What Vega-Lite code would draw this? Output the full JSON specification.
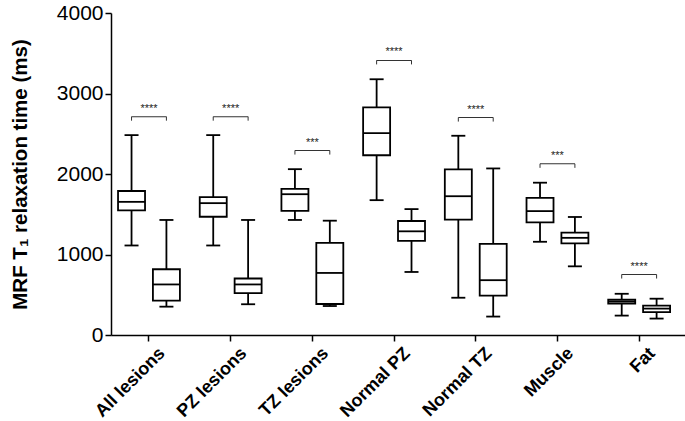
{
  "$schema": "https://vega.github.io/schema/vega-lite/v6.json",
  "width": 574,
  "height": 322,
  "autosize": "none",
  "padding": {"left": 111, "top": 13, "right": 0, "bottom": 86},
  "background": "white",
  "config": {
    "view": {"stroke": null},
    "font": "Liberation Sans",
    "axis": {"domainColor": "black", "tickColor": "black", "labelColor": "black", "titleColor": "black", "grid": false, "domainWidth": 1.5, "tickWidth": 1.5}
  },
  "datasets": {
    "boxes": [
      {"region": "All lesions", "phase": "pre", "min": 1112, "q1": 1547, "median": 1654, "q3": 1789, "max": 2483},
      {"region": "All lesions", "phase": "post", "min": 352, "q1": 426, "median": 628, "q3": 817, "max": 1429},
      {"region": "PZ lesions", "phase": "pre", "min": 1112, "q1": 1469, "median": 1638, "q3": 1712, "max": 2483},
      {"region": "PZ lesions", "phase": "post", "min": 382, "q1": 521, "median": 628, "q3": 702, "max": 1429},
      {"region": "TZ lesions", "phase": "pre", "min": 1429, "q1": 1543, "median": 1749, "q3": 1814, "max": 2060},
      {"region": "TZ lesions", "phase": "post", "min": 360, "q1": 385, "median": 771, "q3": 1145, "max": 1420},
      {"region": "Normal PZ", "phase": "pre", "min": 1675, "q1": 2233, "median": 2508, "q3": 2828, "max": 3177},
      {"region": "Normal PZ", "phase": "post", "min": 783, "q1": 1170, "median": 1288, "q3": 1416, "max": 1564},
      {"region": "Normal TZ", "phase": "pre", "min": 463, "q1": 1432, "median": 1724, "q3": 2057, "max": 2475},
      {"region": "Normal TZ", "phase": "post", "min": 229, "q1": 488, "median": 681, "q3": 1133, "max": 2069},
      {"region": "Muscle", "phase": "pre", "min": 1158, "q1": 1399, "median": 1539, "q3": 1703, "max": 1892},
      {"region": "Muscle", "phase": "post", "min": 853, "q1": 1137, "median": 1207, "q3": 1272, "max": 1466},
      {"region": "Fat", "phase": "pre", "min": 241, "q1": 389, "median": 414, "q3": 438, "max": 512},
      {"region": "Fat", "phase": "post", "min": 204, "q1": 283, "median": 328, "q3": 365, "max": 451}
    ],
    "brackets": [
      {"region": "All lesions", "level": 2712, "stars": "****"},
      {"region": "PZ lesions", "level": 2712, "stars": "****"},
      {"region": "TZ lesions", "level": 2291, "stars": "***"},
      {"region": "Normal PZ", "level": 3411, "stars": "****"},
      {"region": "Normal TZ", "level": 2701, "stars": "****"},
      {"region": "Muscle", "level": 2126, "stars": "***"},
      {"region": "Fat", "level": 751, "stars": "****"}
    ]
  },
  "encoding": {
    "x": {
      "field": "region", "type": "nominal", "sort": null,
      "scale": {"paddingInner": 0.146, "paddingOuter": 0.086, "align": 0.22},
      "axis": {"title": null, "labelAngle": -45, "labelAlign": "right", "labelBaseline": "top", "labelFontSize": 18, "labelFontWeight": "bold", "tickSize": 6, "labelPadding": 3, "labelOffset": 7}
    }
  },
  "layer": [
    {
      "data": {"name": "boxes"},
      "mark": {"type": "rule", "color": "black", "strokeWidth": 1.8},
      "encoding": {
        "xOffset": {"field": "phase", "type": "nominal", "sort": ["pre", "post"], "scale": {"paddingInner": 0, "paddingOuter": 0}},
        "y": {"field": "min", "type": "quantitative", "scale": {"domain": [0, 4000], "nice": false},
          "axis": {"values": [0, 1000, 2000, 3000, 4000], "format": "d", "labelFontSize": 21, "tickSize": 6, "labelPadding": 2, "title": "MRF T₁ relaxation time (ms)", "titleFontSize": 20.5, "titleFontWeight": "bold", "titlePadding": 26}},
        "y2": {"field": "max"}
      }
    },
    {
      "data": {"name": "boxes"},
      "mark": {"type": "bar", "fill": "white", "stroke": "black", "strokeWidth": 1.8, "width": 27},
      "encoding": {
        "xOffset": {"field": "phase", "type": "nominal", "sort": ["pre", "post"]},
        "y": {"field": "q1", "type": "quantitative"},
        "y2": {"field": "q3"}
      }
    },
    {
      "data": {"name": "boxes"},
      "mark": {"type": "tick", "color": "black", "size": 27, "thickness": 1.8, "opacity": 1},
      "encoding": {
        "xOffset": {"field": "phase", "type": "nominal", "sort": ["pre", "post"]},
        "y": {"field": "median", "type": "quantitative"}
      }
    },
    {
      "data": {"name": "boxes"},
      "mark": {"type": "tick", "color": "black", "size": 14, "thickness": 1.8, "opacity": 1},
      "encoding": {
        "xOffset": {"field": "phase", "type": "nominal", "sort": ["pre", "post"]},
        "y": {"field": "min", "type": "quantitative"}
      }
    },
    {
      "data": {"name": "boxes"},
      "mark": {"type": "tick", "color": "black", "size": 14, "thickness": 1.8, "opacity": 1},
      "encoding": {
        "xOffset": {"field": "phase", "type": "nominal", "sort": ["pre", "post"]},
        "y": {"field": "max", "type": "quantitative"}
      }
    },
    {
      "data": {"name": "boxes"},
      "transform": [{"lookup": "region", "from": {"data": {"name": "brackets"}, "key": "region", "fields": ["level"]}}],
      "mark": {"type": "rule", "color": "#333333", "strokeWidth": 1, "y2Offset": 4},
      "encoding": {
        "xOffset": {"field": "phase", "type": "nominal", "sort": ["pre", "post"]},
        "y": {"field": "level", "type": "quantitative"},
        "y2": {"field": "level"}
      }
    },
    {
      "data": {"name": "brackets"},
      "mark": {"type": "tick", "color": "#333333", "size": 35, "thickness": 1, "opacity": 1},
      "encoding": {
        "y": {"field": "level", "type": "quantitative"}
      }
    },
    {
      "data": {"name": "brackets"},
      "mark": {"type": "text", "color": "#222222", "fontSize": 11, "baseline": "alphabetic", "dy": -5},
      "encoding": {
        "y": {"field": "level", "type": "quantitative"},
        "text": {"field": "stars"}
      }
    }
  ]
}
